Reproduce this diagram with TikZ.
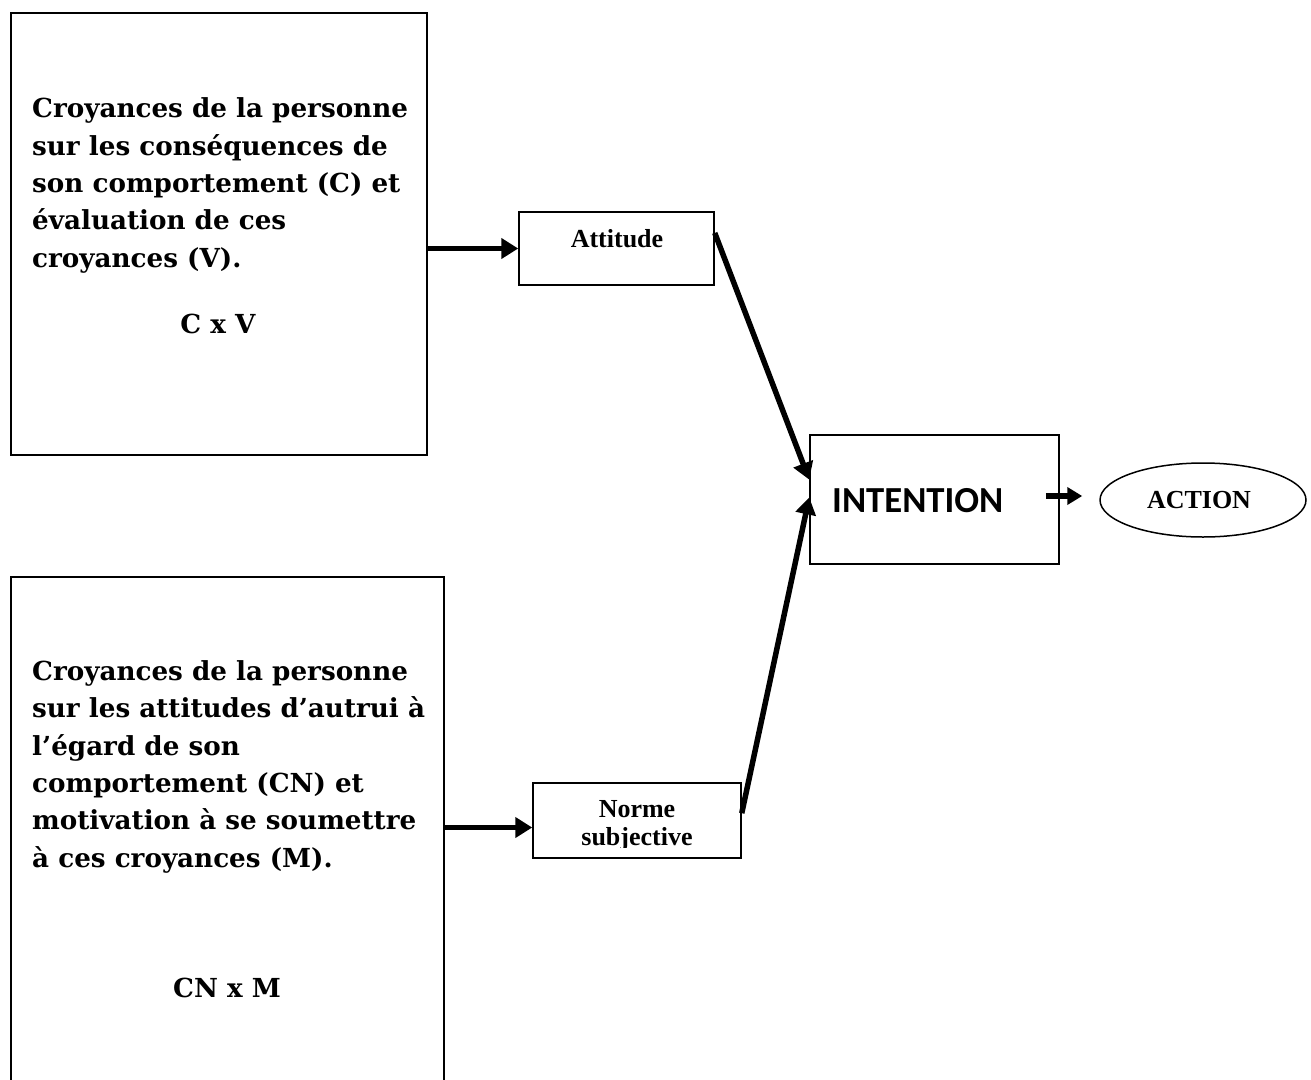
\documentclass[tikz,border=0pt]{standalone}
\usepackage{fontspec}
\usetikzlibrary{arrows.meta,shapes.geometric,calc}
\newfontfamily\crofont{DejaVu Serif}
\newfontfamily\timesfont{Liberation Serif}
\newfontfamily\calfont{Carlito}

\begin{document}
\begin{tikzpicture}[x=1pt,y=-1pt,
    bigbox/.style={draw, line width=2pt, inner sep=0pt},
    smallbox/.style={draw, line width=1.5pt, inner sep=0pt},
    crotext/.style={inner sep=0pt, align=left, font=\crofont\bfseries\fontsize{26.2}{37.3}\selectfont},
    smalltext/.style={inner sep=0pt, align=center, font=\timesfont\bfseries\fontsize{26}{28}\selectfont},
    flow/.style={line width=5.5pt, -{Triangle[length=17pt,width=20pt]}}
]
    % Page frame
    \useasboundingbox (0,0) rectangle (1311,1079);

    % Top left box: attitude beliefs
    \node[bigbox, minimum width=416pt, minimum height=442pt] (cro1) at (219,234) {};
    % (base = baseline of the last line)
    \node[crotext, anchor=base west] (cro1txt) at (32,267) {Croyances de la personne\\
        sur les conséquences de\\
        son comportement (C) et\\
        évaluation de ces\\
        croyances (V).};
    \node[crotext, anchor=base] (cv) at (218,333) {C x V};

    % Bottom left box: normative beliefs
    \node[bigbox, minimum width=433pt, minimum height=523pt] (cro2) at (227.5,838.5) {};
    \node[crotext, anchor=base west] (cro2txt) at (32,867) {Croyances de la personne\\
        sur les attitudes d’autrui à\\
        l’égard de son\\
        comportement (CN) et\\
        motivation à se soumettre\\
        à ces croyances (M).};
    \node[crotext, anchor=base] (cnm) at (227,997) {CN x M};

    % Attitude
    \node[smallbox, minimum width=195pt, minimum height=73pt] (attitude) at (616.5,248.5) {};
    \node[smalltext, anchor=base] (atttxt) at (617,247) {Attitude};

    % Norme subjective (text cut at the bottom)
    \node[smallbox, minimum width=208pt, minimum height=75pt] (norme) at (637,820.5) {};
    \begin{scope}
        \clip (533,783) rectangle (741,847);
        \node[smalltext, anchor=base] (normetxt) at (637,845) {Norme\\subjective};
    \end{scope}

    % Intention
    \node[smallbox, minimum width=249pt, minimum height=129pt] (intention) at (934.5,499.5) {};
    \node[inner sep=0pt, anchor=base west, font=\calfont\bfseries\fontsize{36.7}{40}\selectfont] (inttxt) at (832,512) {INTENTION};

    % Action
    \node[smallbox, ellipse, minimum width=206pt, minimum height=74pt] (action) at (1203,500) {};
    \node[smalltext, anchor=base] (acttxt) at (1199,508) {ACTION};

    % Arrows
    \draw[flow] (cro1.east |- attitude.west) -- (attitude.west);
    \draw[flow] ($(cro2.east |- norme.west)+(0,7)$) -- ($(norme.west)+(0,7)$);
    \draw[flow] (attitude.9) -- (intention.171);
    \draw[flow] (norme.4) -- (intention.179);
    \draw[line width=5.5pt, -{Triangle[length=15pt,width=17pt]}, shorten <=-14pt, shorten >=17pt] ($(intention.east)+(0,-3.5)$) -- ($(action.west)+(0,-4)$);

\end{tikzpicture}
\end{document}
